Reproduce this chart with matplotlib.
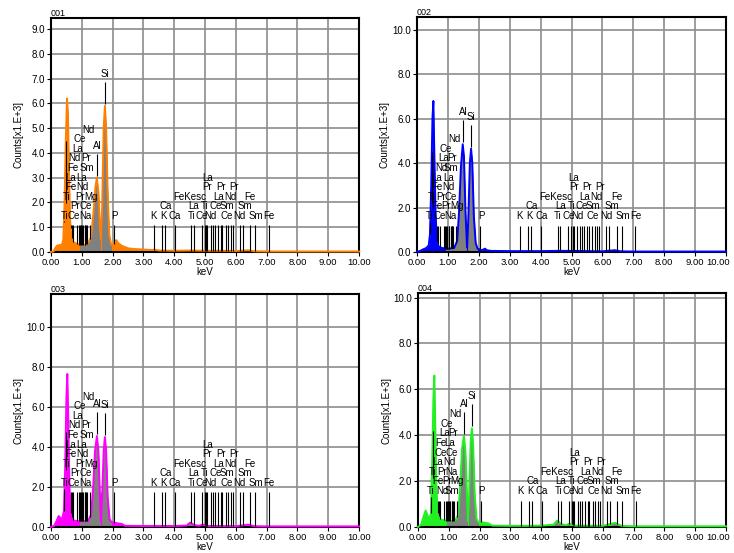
import numpy as np
import matplotlib.pyplot as plt
from matplotlib.patches import Rectangle
from matplotlib.transforms import ScaledTranslation

plt.rcParams["font.family"] = ["Liberation Sans", "DejaVu Sans"]

# spectra: energy (keV) and counts (x1000)
energy_001 = [0.00, 0.08, 0.15, 0.20, 0.30, 0.36, 0.40, 0.44, 0.48, 0.52, 0.55, 0.58, 0.62, 0.66, 0.72,
              0.80, 0.90, 1.00, 1.10, 1.20, 1.30, 1.38, 1.44, 1.49, 1.54, 1.59, 1.62, 1.66, 1.71, 1.75,
              1.79, 1.84, 1.89, 1.95, 2.02, 2.08, 2.12, 2.18, 2.30, 2.50, 2.70, 3.00, 3.30, 3.36, 3.50,
              4.00, 4.50, 5.00, 5.50, 6.00, 6.40, 6.60, 7.00, 10.00]
counts_001 = [0.00, 0.02, 0.18, 0.26, 0.28, 0.30, 0.50, 2.00, 4.50, 6.20, 5.60, 3.50, 1.30, 0.60, 0.40,
              0.35, 0.30, 0.28, 0.28, 0.35, 0.60, 1.60, 2.60, 3.00, 2.40, 1.00, 0.50, 1.80, 5.00, 5.90,
              5.00, 2.40, 0.70, 0.30, 0.28, 0.42, 0.48, 0.36, 0.25, 0.15, 0.12, 0.10, 0.08, 0.10, 0.06,
              0.05, 0.06, 0.05, 0.05, 0.04, 0.07, 0.03, 0.02, 0.02]

energy_002 = [0.00, 0.10, 0.20, 0.30, 0.38, 0.42, 0.46, 0.50, 0.53, 0.56, 0.60, 0.64, 0.70, 0.80, 1.00,
              1.20, 1.30, 1.36, 1.42, 1.48, 1.52, 1.57, 1.62, 1.66, 1.71, 1.75, 1.79, 1.84, 1.90, 1.96,
              2.10, 2.20, 2.26, 2.40, 3.00, 3.50, 4.00, 4.50, 5.00, 5.50, 6.00, 6.40, 6.60, 7.00, 10.00]
counts_002 = [0.00, 0.05, 0.12, 0.18, 0.30, 0.80, 3.00, 6.00, 6.80, 4.50, 1.80, 0.50, 0.25, 0.18, 0.15,
              0.18, 0.50, 1.80, 3.80, 4.85, 4.30, 1.80, 0.20, 1.50, 4.00, 4.65, 4.00, 1.60, 0.40, 0.15,
              0.08, 0.15, 0.08, 0.05, 0.04, 0.04, 0.04, 0.05, 0.05, 0.04, 0.03, 0.08, 0.03, 0.02, 0.02]

energy_003 = [0.00, 0.10, 0.18, 0.25, 0.30, 0.36, 0.42, 0.46, 0.50, 0.53, 0.56, 0.60, 0.64, 0.70, 0.80,
              1.00, 1.20, 1.30, 1.37, 1.43, 1.49, 1.54, 1.59, 1.62, 1.66, 1.71, 1.75, 1.79, 1.84, 1.90,
              1.96, 2.10, 2.30, 2.40, 3.00, 3.50, 4.00, 4.40, 4.52, 4.65, 4.80, 4.93, 5.10, 5.50, 6.00,
              6.40, 6.60, 7.00, 10.00]
counts_003 = [0.00, 0.05, 0.30, 0.55, 0.45, 0.40, 0.80, 3.00, 6.50, 7.65, 5.50, 2.00, 0.70, 0.35, 0.30,
              0.28, 0.30, 0.60, 2.00, 3.80, 4.55, 3.80, 1.50, 0.30, 1.50, 3.80, 4.50, 3.80, 1.50, 0.40,
              0.25, 0.20, 0.15, 0.06, 0.05, 0.05, 0.05, 0.07, 0.22, 0.10, 0.06, 0.12, 0.05, 0.05, 0.04,
              0.12, 0.04, 0.03, 0.03]

energy_004 = [0.00, 0.10, 0.18, 0.25, 0.30, 0.36, 0.42, 0.46, 0.50, 0.53, 0.56, 0.60, 0.64, 0.70, 0.80,
              1.00, 1.20, 1.30, 1.37, 1.43, 1.49, 1.54, 1.59, 1.62, 1.66, 1.71, 1.75, 1.79, 1.84, 1.90,
              1.96, 2.10, 2.30, 2.40, 3.00, 3.50, 4.00, 4.40, 4.52, 4.65, 4.80, 4.93, 5.10, 5.50, 6.00,
              6.40, 6.60, 7.00, 10.00]
counts_004 = [0.00, 0.10, 0.45, 0.72, 0.55, 0.30, 0.60, 2.80, 5.60, 6.60, 4.50, 1.60, 0.60, 0.35, 0.30,
              0.25, 0.28, 0.50, 1.80, 3.40, 3.98, 3.30, 1.30, 0.25, 1.40, 3.70, 4.30, 3.60, 1.40, 0.35,
              0.20, 0.20, 0.15, 0.06, 0.05, 0.05, 0.06, 0.10, 0.28, 0.12, 0.08, 0.15, 0.06, 0.06, 0.05,
              0.18, 0.05, 0.03, 0.03]

titles = ["001", "002", "003", "004"]
colors = ["#FF8000", "#0000FF", "#FF00FF", "#22F022"]

# element labels in the low energy cluster: (text, keV, stack row)
low_labels_001 = [("Ti", 0.43, 0), ("Ce", 0.75, 0), ("Na", 1.13, 0), ("Pr", 0.78, 1), ("Ce", 1.11, 1),
                  ("Ti", 0.50, 2), ("Pr", 0.95, 2), ("Mg", 1.29, 2), ("Fe", 0.64, 3), ("Nd", 1.03, 3),
                  ("La", 0.64, 4), ("La", 1.01, 4), ("Fe", 0.71, 5), ("Sm", 1.16, 5), ("Nd", 0.77, 6),
                  ("Pr", 1.14, 6), ("La", 0.86, 7), ("Ce", 0.92, 8), ("Nd", 1.20, 9)]
low_labels_002 = [("Ti", 0.42, 0), ("Ce", 0.73, 0), ("Na", 1.08, 0), ("Fe", 0.65, 1), ("Pr", 0.95, 1),
                  ("Mg", 1.29, 1), ("Ti", 0.48, 2), ("Pr", 0.78, 2), ("Ce", 1.08, 2), ("Fe", 0.64, 3),
                  ("Nd", 1.03, 3), ("La", 0.64, 4), ("La", 1.02, 4), ("Nd", 0.79, 5), ("Sm", 1.11, 5),
                  ("La", 0.86, 6), ("Pr", 1.14, 6), ("Ce", 0.92, 7), ("Nd", 1.20, 8)]
low_labels_003 = low_labels_001
low_labels_004 = [("Ti", 0.42, 0), ("Nd", 0.78, 0), ("Sm", 1.11, 0), ("Fe", 0.64, 1), ("Pr", 0.95, 1),
                  ("Mg", 1.27, 1), ("Ti", 0.49, 2), ("Pr", 0.78, 2), ("Na", 1.08, 2), ("La", 0.64, 3),
                  ("Nd", 1.02, 3), ("Ce", 0.73, 4), ("Ce", 1.08, 4), ("Fe", 0.73, 5), ("La", 1.02, 5),
                  ("La", 0.86, 6), ("Pr", 1.14, 6), ("Ce", 0.92, 7), ("Nd", 1.22, 8)]

high_labels = [("P", 2.07, 0), ("K", 3.33, 0), ("K", 3.64, 0), ("Ca", 3.71, 1), ("Ca", 4.02, 0),
               ("Ti", 4.56, 0), ("La", 4.64, 1), ("FeKesc", 4.50, 2), ("Ce", 4.90, 0), ("Ti", 4.99, 1),
               ("Pr", 5.08, 3), ("La", 5.08, 4), ("Nd", 5.19, 0), ("Ce", 5.34, 1), ("La", 5.43, 2),
               ("Pr", 5.51, 3), ("Ce", 5.70, 0), ("Sm", 5.70, 1), ("Nd", 5.81, 2), ("Pr", 5.94, 3),
               ("Nd", 6.12, 0), ("Sm", 6.30, 1), ("Fe", 6.46, 2), ("Sm", 6.65, 0), ("Fe", 7.08, 0)]

marker_lines = [0.64, 0.67, 0.73, 0.86, 0.91, 0.95, 0.98, 1.02, 1.05, 1.09, 1.12, 1.14, 1.18, 1.27,
                2.03, 3.33, 3.60, 3.70, 4.02, 4.56, 4.64, 4.89, 4.99, 5.04, 5.08, 5.18, 5.27, 5.34,
                5.42, 5.51, 5.56, 5.67, 5.75, 5.84, 5.90, 6.13, 6.22, 6.46, 6.62, 7.07]
ti_lines = [(0.42, 0), (0.48, 2)]
peak_labels = [("Al", 1.49), ("Si", 1.75)]

# regions of interest shaded grey
roi = [(0.95, 1.61), (1.63, 1.95), (3.20, 3.42), (3.55, 3.85), (4.40, 4.90), (5.00, 5.40),
       (5.50, 5.80), (6.30, 6.60)]

# layout (pixels in a 734x553 figure)
W, H = 734, 553
boxes = [(51, 18, 359, 252), (417, 17, 726, 252), (51, 294, 359, 527), (418, 293, 726, 527)]
ylims = [9.45, 10.58, 11.65, 10.2]
ysteps = [1.0, 2.0, 2.0, 2.0]
row0_px = [36, 36, 44, 36]
top_px = [27, 26, 35, 26]
row_px = 9.6

spectra = [(energy_001, counts_001, low_labels_001), (energy_002, counts_002, low_labels_002),
           (energy_003, counts_003, low_labels_003), (energy_004, counts_004, low_labels_004)]

fig = plt.figure(figsize=(W / 100, H / 100), dpi=100)

for i, (e, c, low) in enumerate(spectra):
    l, t, r, b = boxes[i]
    ax = fig.add_axes([l / W, 1 - b / H, (r - l) / W, (b - t) / H])
    ymax = ylims[i]
    ppu = (b - t) / ymax  # pixels per data unit
    col = colors[i]
    e = np.array(e)
    c = np.array(c)

    ax.fill_between(e, c, 0, color=col, lw=0, zorder=2)
    ax.plot(e, c, color=col, lw=1.4, zorder=3, clip_on=False)
    for a, z in roi:
        poly = ax.fill_between(e, c, 0, color="#808080", lw=0, zorder=2.2)
        poly.set_clip_path(Rectangle((a, 0), z - a, ymax, transform=ax.transData))
    ax.vlines(1.62, 0, top_px[i] / ppu, color=col, lw=0.8, zorder=2.3)

    # element marker lines
    base = np.interp(marker_lines, e, c)
    ax.vlines(marker_lines, base, top_px[i] / ppu, color="k", lw=0.8, zorder=4)
    for x, row in ti_lines:
        ax.vlines(x, np.interp(x, e, c), (row0_px[i] + row * row_px - 6) / ppu,
                  color="k", lw=0.8, zorder=4)

    for s, x, row in low + high_labels:
        ax.text(x, (row0_px[i] + row * row_px) / ppu, s, ha="center", va="center",
                fontsize=7, zorder=5)

    for s, x in peak_labels:
        near = (e > x - 0.06) & (e < x + 0.06)
        pk = c[near].max()
        ax.vlines(x, pk + 2 / ppu, pk + 24 / ppu, color="k", lw=0.8, zorder=4)
        ax.text(x, pk + 32 / ppu, s, ha="center", va="center", fontsize=7, zorder=5)

    ax.set_xlim(0, 10)
    ax.set_ylim(0, ymax)
    ax.set_xticks(np.arange(0, 11, 1))
    ax.set_xticklabels([f"{v:.2f}" for v in range(11)])
    yt = np.arange(0, ymax, ysteps[i])
    ax.set_yticks(yt)
    ax.set_yticklabels([f"{v:.1f}" for v in yt])
    ax.tick_params(direction="out", length=3, width=0.8, labelsize=7, pad=1.5)
    ax.tick_params(axis="x", labelsize=6.8)
    if r > 700:
        # keep the last tick label inside the figure
        lab = ax.get_xticklabels()[-1]
        lab.set_transform(lab.get_transform() + ScaledTranslation(-8 / 100, 0, fig.dpi_scale_trans))
    ax.grid(True, color="#8c8c8c", lw=1.2)
    ax.set_axisbelow(True)
    for sp in ax.spines.values():
        sp.set_linewidth(1.5)
    ax.set_xlabel("keV", fontsize=7, labelpad=0)
    ax.set_ylabel("Counts[x1.E+3]", fontsize=7)
    ax.yaxis.set_label_coords(-27 / (r - l), 0.5)
    ax.set_title(titles[i], loc="left", fontsize=6.5, pad=1)

fig.savefig("out.png", dpi=100)
